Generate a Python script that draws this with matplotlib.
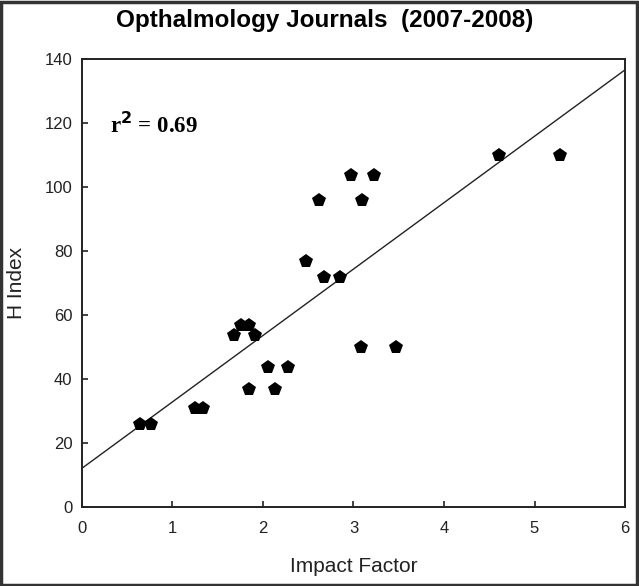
import matplotlib
matplotlib.use("Agg")
import matplotlib.pyplot as plt
from matplotlib.patches import Rectangle

# values
impact_factor = [0.64, 0.76, 1.25, 1.34, 1.68, 1.76, 1.85, 1.91, 1.84, 2.13,
                 2.05, 2.28, 2.48, 2.62, 2.67, 2.85, 2.97, 3.09, 3.23, 3.08,
                 3.47, 4.61, 5.28]
h_index = [26, 26, 31, 31, 54, 57, 57, 54, 37, 37,
           44, 44, 77, 96, 72, 72, 104, 96, 104, 50,
           50, 110, 110]

# regression line as drawn
fit_intercept = 12.2
fit_slope = 20.75
fit_x = [0, 6]

x_ticks = [0, 1, 2, 3, 4, 5, 6]
y_ticks = [0, 20, 40, 60, 80, 100, 120, 140]

plt.rcParams['font.family'] = ['Liberation Sans', 'DejaVu Sans']

fig = plt.figure(figsize=(6.39, 5.86), dpi=100)
ax = fig.add_axes([0.1283, 0.1343, 0.8498, 0.7645])

fit_y = [fit_intercept + fit_slope * v for v in fit_x]
ax.plot(fit_x, fit_y, color='#222222', lw=1.0)
ax.plot(impact_factor, h_index, linestyle='none', marker='p', ms=10,
        color='black', markeredgewidth=0)

ax.set_xlim(0, 6)
ax.set_ylim(0, 140)
ax.set_xticks(x_ticks)
ax.set_yticks(y_ticks)
ax.tick_params(direction='in', length=4, width=1.2, labelsize=12,
               colors='#222222')
ax.tick_params(axis='x', pad=10)
ax.tick_params(axis='y', pad=7)
for s in ax.spines.values():
    s.set_linewidth(1.4)
    s.set_color('#222222')

ax.set_xlabel('Impact Factor', fontsize=15, labelpad=15, color='#222222')
ax.set_ylabel('H Index', fontsize=15, labelpad=13, color='#222222')
fig.suptitle('Opthalmology Journals  (2007-2008)', fontsize=17.5,
             fontweight='bold', y=0.984, x=0.508)

ax.text(0.051, 0.835, r'r$^{\mathbf{2}}$ = 0.69', transform=ax.transAxes,
        fontsize=16.5, fontweight='bold', family='Liberation Serif')

# thin frame round the whole picture
fig.patches.append(Rectangle((0.002, 0.002), 0.995, 0.995,
                             transform=fig.transFigure, fill=False,
                             edgecolor='#333333', lw=2.5))

fig.savefig('out.png', dpi=100)
